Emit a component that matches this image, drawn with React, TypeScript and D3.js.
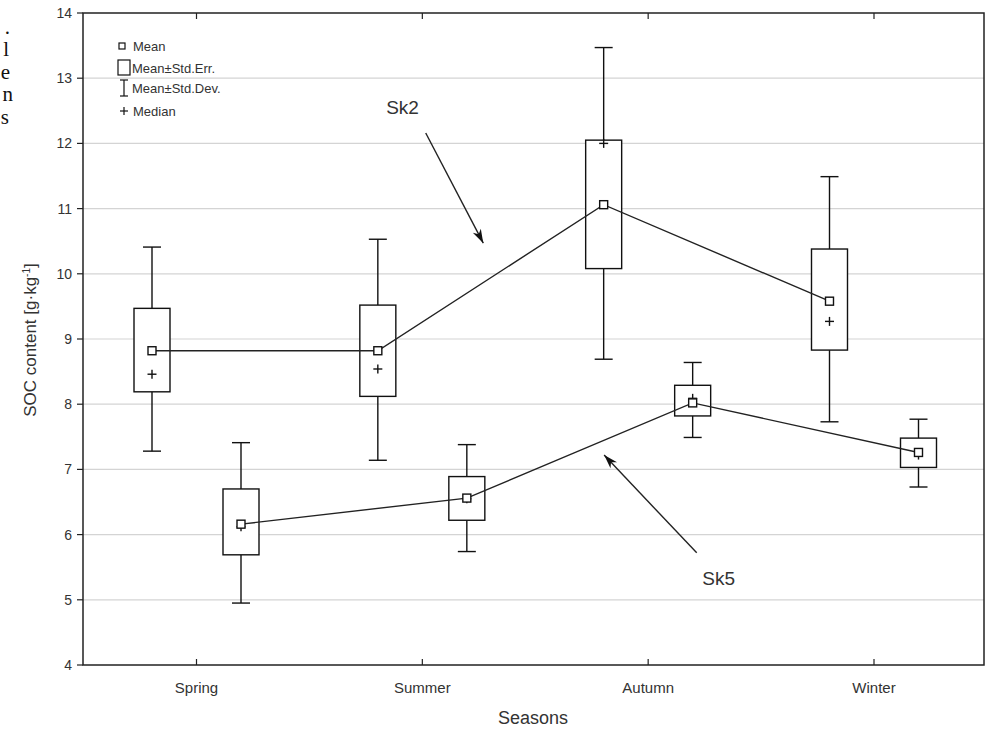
import React from "react";
import * as d3 from "d3";

const seasons = ["Spring", "Summer", "Autumn", "Winter"];
const yTicks = [4, 5, 6, 7, 8, 9, 10, 11, 12, 13, 14];

// Sk2 series
const sk2Mean = [8.82, 8.82, 11.06, 9.58];
const sk2Median = [8.46, 8.54, 12.0, 9.27];
const sk2SeLow = [8.19, 8.12, 10.08, 8.83];
const sk2SeHigh = [9.47, 9.52, 12.05, 10.38];
const sk2SdLow = [7.28, 7.14, 8.69, 7.73];
const sk2SdHigh = [10.41, 10.53, 13.47, 11.49];

// Sk5 series
const sk5Mean = [6.16, 6.56, 8.02, 7.26];
const sk5Median = [6.12, 6.55, 8.09, 7.22];
const sk5SeLow = [5.69, 6.22, 7.82, 7.03];
const sk5SeHigh = [6.7, 6.89, 8.29, 7.48];
const sk5SdLow = [4.95, 5.74, 7.49, 6.73];
const sk5SdHigh = [7.41, 7.38, 8.64, 7.77];

// annotations (x in category-index units, y in data units)
const annotations = [
  { label: "Sk2", tx: 0.84, ty: 12.45, x1: 1.015, y1: 12.16, x2: 1.27, y2: 10.47 },
  { label: "Sk5", tx: 2.24, ty: 5.23, x1: 2.215, y1: 5.72, x2: 1.805, y2: 7.22 },
];

const legendItems = ["Mean", "Mean\u00b1Std.Err.", "Mean\u00b1Std.Dev.", "Median"];

const W = 985;
const H = 734;
const left = 83;
const right = 984;
const top = 13;
const bottom = 665;
const FONT = "'Liberation Sans', Arial, sans-serif";
const TXT = "#333";

export default function App() {
  const y = d3.scaleLinear().domain([4, 14]).range([bottom, top]);
  const xi = d3.scaleLinear().domain([0, 3]).range([196.5, 874]);
  const x = d3.scalePoint<string>().domain(seasons).range([196.5, 874]);
  const offset = 44.5;
  const boxW = 36;
  const capW = 18;

  const series = [
    { mean: sk2Mean, median: sk2Median, seL: sk2SeLow, seH: sk2SeHigh, sdL: sk2SdLow, sdH: sk2SdHigh, off: -offset },
    { mean: sk5Mean, median: sk5Median, seL: sk5SeLow, seH: sk5SeHigh, sdL: sk5SdLow, sdH: sk5SdHigh, off: offset },
  ];

  const line = d3
    .line<number>()
    .x((_, i) => (x(seasons[i]) as number))
    .y((d) => y(d));

  const arrowHead = (a: any) => {
    const X1 = xi(a.x1), Y1 = y(a.y1), X2 = xi(a.x2), Y2 = y(a.y2);
    const ang = Math.atan2(Y2 - Y1, X2 - X1);
    const L = 14, w = 4.5;
    const bx = X2 - L * Math.cos(ang), by = Y2 - L * Math.sin(ang);
    const nx = -Math.sin(ang), ny = Math.cos(ang);
    const mx = X2 - (L - 4) * Math.cos(ang), my = Y2 - (L - 4) * Math.sin(ang);
    return `M${X2},${Y2} L${bx + nx * w},${by + ny * w} L${mx},${my} L${bx - nx * w},${by - ny * w} Z`;
  };

  return (
    <div style={{ position: "absolute", left: 0, top: 0 }}>
      <svg width={W} height={H} style={{ display: "block", background: "#fff" }}>
        {/* cut-off text fragment at left */}
        <g fontFamily="'Liberation Serif', 'Times New Roman', serif" fontSize={21} fill="#111" textAnchor="end">
          <text x={10} y={34}>.</text>
          <text x={9} y={56}>l</text>
          <text x={10} y={79}>e</text>
          <text x={13} y={101}>n</text>
          <text x={9} y={124}>s</text>
        </g>

        {/* grid */}
        {yTicks.slice(1, -1).map((t) => (
          <line key={"g" + t} x1={left} x2={right} y1={y(t)} y2={y(t)} stroke="#d4d4d4" strokeWidth={1.2} />
        ))}

        {/* frame */}
        <rect x={left} y={top} width={right - left} height={bottom - top} fill="none" stroke="#222" strokeWidth={1.5} />

        {/* y ticks and labels */}
        {yTicks.map((t) => (
          <g key={"y" + t}>
            <line x1={left - 6} x2={left} y1={y(t)} y2={y(t)} stroke="#222" strokeWidth={1.2} />
            <text x={72} y={y(t)} dy="0.35em" textAnchor="end" fontFamily={FONT} fontSize={14} fill={TXT}>
              {t}
            </text>
          </g>
        ))}

        {/* x ticks and labels */}
        {seasons.map((s) => (
          <g key={"x" + s}>
            <line x1={x(s)} x2={x(s)} y1={bottom} y2={bottom - 6} stroke="#222" strokeWidth={1.2} />
            <line x1={x(s)} x2={x(s)} y1={top} y2={top + 6} stroke="#222" strokeWidth={1.2} />
            <text x={x(s)} y={693} textAnchor="middle" fontFamily={FONT} fontSize={15} fill={TXT}>
              {s}
            </text>
          </g>
        ))}

        {/* axis titles */}
        <text x={533} y={724} textAnchor="middle" fontFamily={FONT} fontSize={18} fill={TXT}>
          Seasons
        </text>
        <text
          transform={`translate(36,340) rotate(-90)`}
          textAnchor="middle"
          fontFamily={FONT}
          fontSize={17}
          fill={TXT}
        >
          SOC content [g·kg
          <tspan dy={-6} fontSize={10}>-1</tspan>
          <tspan dy={6}>]</tspan>
        </text>

        {/* boxes and whiskers */}
        {series.map((sr, si) => (
          <g key={"s" + si} stroke="#111" strokeWidth={1.4}>
            {seasons.map((s, i) => {
              const cx = (x(s) as number) + sr.off;
              return (
                <g key={s}>
                  <line x1={cx} x2={cx} y1={y(sr.sdH[i])} y2={y(sr.seH[i])} />
                  <line x1={cx} x2={cx} y1={y(sr.seL[i])} y2={y(sr.sdL[i])} />
                  <line x1={cx - capW / 2} x2={cx + capW / 2} y1={y(sr.sdH[i])} y2={y(sr.sdH[i])} />
                  <line x1={cx - capW / 2} x2={cx + capW / 2} y1={y(sr.sdL[i])} y2={y(sr.sdL[i])} />
                  <rect
                    x={cx - boxW / 2}
                    y={y(sr.seH[i])}
                    width={boxW}
                    height={y(sr.seL[i]) - y(sr.seH[i])}
                    fill="#fff"
                  />
                </g>
              );
            })}
          </g>
        ))}

        {/* mean lines */}
        {series.map((sr, si) => (
          <path
            key={"l" + si}
            d={line(sr.mean) as string}
            transform={`translate(${sr.off},0)`}
            fill="none"
            stroke="#222"
            strokeWidth={1.4}
          />
        ))}

        {/* markers */}
        {series.map((sr, si) => (
          <g key={"m" + si} stroke="#111" strokeWidth={1.4}>
            {seasons.map((s, i) => {
              const cx = (x(s) as number) + sr.off;
              const my = y(sr.median[i]);
              const mn = y(sr.mean[i]);
              return (
                <g key={s}>
                  <line x1={cx - 4.5} x2={cx + 4.5} y1={my} y2={my} />
                  <line x1={cx} x2={cx} y1={my - 4.5} y2={my + 4.5} />
                  <rect x={cx - 4} y={mn - 4} width={8} height={8} fill="#fff" />
                </g>
              );
            })}
          </g>
        ))}

        {/* annotations */}
        {annotations.map((a) => (
          <g key={a.label}>
            <text x={xi(a.tx)} y={y(a.ty)} fontFamily={FONT} fontSize={19} fill={TXT}>
              {a.label}
            </text>
            <line x1={xi(a.x1)} y1={y(a.y1)} x2={xi(a.x2)} y2={y(a.y2)} stroke="#222" strokeWidth={1.4} />
            <path d={arrowHead(a)} fill="#111" />
          </g>
        ))}

        {/* legend */}
        <g fontFamily={FONT} fontSize={13} fill={TXT}>
          <rect x={119} y={43} width={6} height={6} fill="#fff" stroke="#111" strokeWidth={1.2} />
          <text x={133} y={46} dy="0.35em">{legendItems[0]}</text>
          <rect x={118} y={60} width={12} height={15} fill="#fff" stroke="#111" strokeWidth={1.2} />
          <text x={132} y={68} dy="0.35em">{legendItems[1]}</text>
          <g stroke="#111" strokeWidth={1.2}>
            <line x1={124} x2={124} y1={80} y2={96} />
            <line x1={120} x2={128} y1={80} y2={80} />
            <line x1={120} x2={128} y1={96} y2={96} />
          </g>
          <text x={132} y={88} dy="0.35em">{legendItems[2]}</text>
          <g stroke="#111" strokeWidth={1.2}>
            <line x1={120} x2={128} y1={111} y2={111} />
            <line x1={124} x2={124} y1={107} y2={115} />
          </g>
          <text x={133} y={111} dy="0.35em">{legendItems[3]}</text>
        </g>
      </svg>
    </div>
  );
}
